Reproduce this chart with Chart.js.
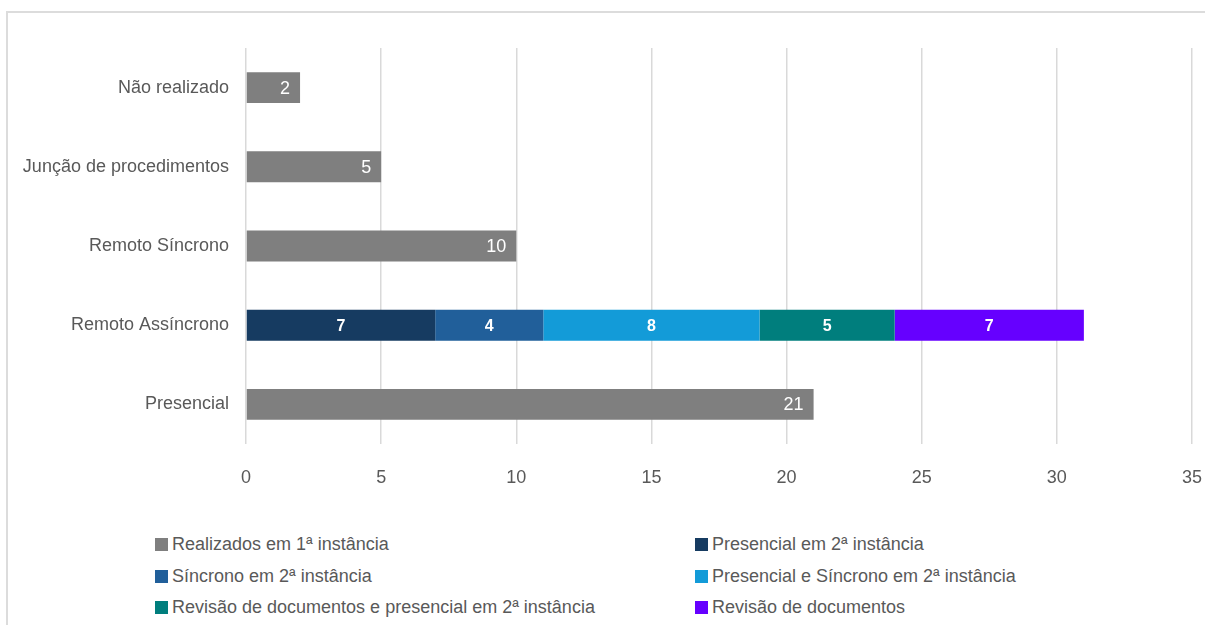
<!DOCTYPE html>
<html>
<head>
<meta charset="utf-8">
<script src="https://cdn.jsdelivr.net/npm/chart.js@4.4.1/dist/chart.umd.min.js"></script>
<style>
  html, body { margin:0; padding:0; background:#fff; width:1205px; height:625px; overflow:hidden; position:relative; }
  #frame { position:absolute; left:6px; top:11px; width:1220px; height:640px; border:2px solid #dcdcdc; box-sizing:border-box; }
  #wrap { position:absolute; left:0; top:0; width:1225px; height:500px; }
  #legend { position:absolute; left:155px; top:529px; display:grid; grid-template-columns:540px 500px; row-gap:0px;
            font-family:"Liberation Sans", Arial, sans-serif; font-size:18px; color:#595959; }
  .item { display:flex; align-items:center; height:31.5px; white-space:nowrap; }
  .sw { width:13px; height:13px; margin-right:4px; flex:none; }
</style>
</head>
<body>
<div id="frame"></div>
<div id="wrap"><canvas id="c" width="1225" height="500" style="width:1225px;height:500px"></canvas></div>
<div id="legend"></div>
<script>
const categories = ['Não realizado','Junção de procedimentos','Remoto Síncrono','Remoto Assíncrono','Presencial'];
const seriesNames = [
  'Realizados em 1ª instância',
  'Presencial em 2ª instância',
  'Síncrono em 2ª instância',
  'Presencial e Síncrono em 2ª instância',
  'Revisão de documentos e presencial em 2ª instância',
  'Revisão de documentos'
];
const realizados1 = [2, 5, 10, null, 21];
const presencial2 = [null, null, null, 7, null];
const sincrono2 = [null, null, null, 4, null];
const presSinc2 = [null, null, null, 8, null];
const revisaoPres2 = [null, null, null, 5, null];
const revisaoDoc = [null, null, null, 7, null];
const seriesValues = [realizados1, presencial2, sincrono2, presSinc2, revisaoPres2, revisaoDoc];
const seriesColors = ['#7f7f7f', '#163b61', '#215f9a', '#139bd8', '#007e7d', '#6600ff'];
const xTicks = [0, 5, 10, 15, 20, 25, 30, 35];

const FONT = '"Liberation Sans", Arial, sans-serif';

const labelPlugin = {
  id: 'barLabels',
  afterDatasetsDraw(chart) {
    const ctx = chart.ctx;
    ctx.save();
    chart.data.datasets.forEach((ds, di) => {
      const meta = chart.getDatasetMeta(di);
      meta.data.forEach((bar, i) => {
        const v = ds.data[i];
        if (v == null) return;
        ctx.fillStyle = '#ffffff';
        ctx.textBaseline = 'middle';
        if (di === 0) {
          ctx.font = '18px ' + FONT;
          ctx.textAlign = 'right';
          ctx.fillText(String(v), bar.x - 10, bar.y + 1);
        } else {
          ctx.font = 'bold 16px ' + FONT;
          ctx.textAlign = 'center';
          ctx.fillText(String(v), (bar.x + bar.base) / 2, bar.y + 1);
        }
      });
    });
    ctx.restore();
  }
};

const datasets = seriesNames.map((n, k) => ({
  label: n,
  data: seriesValues[k],
  backgroundColor: seriesColors[k],
  borderWidth: 0,
  categoryPercentage: 1,
  barPercentage: 0.39
}));

new Chart(document.getElementById('c'), {
  type: 'bar',
  data: { labels: categories, datasets },
  options: {
    indexAxis: 'y',
    responsive: false,
    animation: false,
    devicePixelRatio: 1,
    layout: { padding: { left: 0, top: 48, right: 0, bottom: 0 } },
    plugins: { legend: { display: false }, tooltip: { enabled: false } },
    scales: {
      x: {
        stacked: true, min: 0, max: 35,
        afterBuildTicks(s) { s.ticks = xTicks.map(v => ({ value: v })); },
        afterFit(s) { s.height = 56; },
        grid: { color: '#d9d9d9', lineWidth: 1.5, drawTicks: false },
        border: { display: false },
        ticks: { color: '#595959', font: { family: FONT, size: 18 }, padding: 23, maxRotation: 0 }
      },
      y: {
        stacked: true,
        afterFit(s) { s.width = 246; },
        grid: { display: false, drawTicks: false },
        border: { display: false },
        ticks: { color: '#595959', font: { family: FONT, size: 18 }, padding: 17 }
      }
    }
  },
  plugins: [labelPlugin]
});

const leg = document.getElementById('legend');
seriesNames.forEach((n, k) => {
  const d = document.createElement('div');
  d.className = 'item';
  d.innerHTML = '<span class="sw" style="background:' + seriesColors[k] + '"></span><span></span>';
  d.lastChild.textContent = n;
  leg.appendChild(d);
});
</script>
</body>
</html>
